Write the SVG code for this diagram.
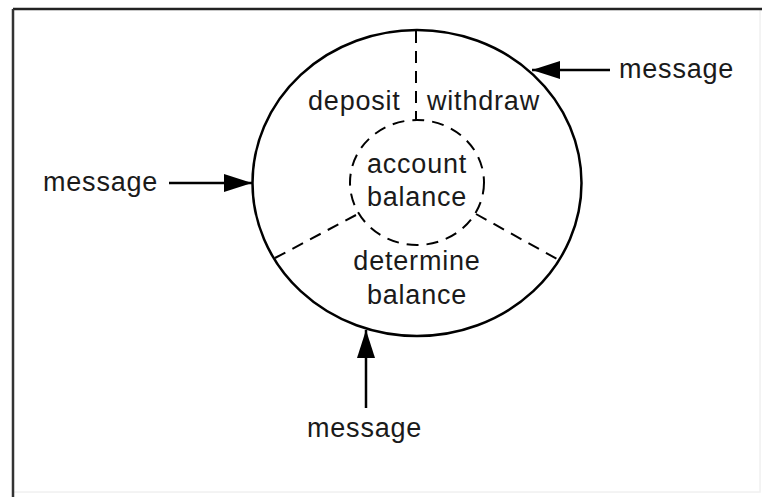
<svg xmlns="http://www.w3.org/2000/svg" width="762" height="497" viewBox="0 0 762 497">
<style>
.t{font-family:"Liberation Sans",Arial,Helvetica,sans-serif;font-size:27px;letter-spacing:0.8px;fill:#1a1a1a}
.c{text-anchor:middle}
.solid{fill:none;stroke:#000;stroke-width:2.5}
.dash{fill:none;stroke:#000;stroke-width:2;stroke-dasharray:12 8}
.arr{stroke:#000;stroke-width:2.5;fill:none;marker-end:url(#ah)}
</style>
<defs>
<marker id="ah" viewBox="0 0 28 18" refX="28" refY="9" markerWidth="28" markerHeight="18" markerUnits="userSpaceOnUse" orient="auto">
<path d="M0,0 L28,9 L0,18 Z" fill="#000"/>
</marker>
</defs>
<rect x="0" y="0" width="762" height="497" fill="#fff"/>
<g id="frame">
<rect x="13" y="9" width="747" height="483" fill="none" stroke="#f0f0f0" stroke-width="1.5"/>
<line x1="13" y1="9" x2="762" y2="9" stroke="#222" stroke-width="2.5"/>
<line x1="13" y1="9" x2="13" y2="497" stroke="#333" stroke-width="2.5"/>
</g>
<g id="object">
<ellipse cx="417" cy="183" rx="164.5" ry="153" class="solid"/>
<line x1="416" y1="31" x2="416" y2="120" class="dash"/>
<line x1="356" y1="215" x2="275" y2="258" class="dash"/>
<line x1="476" y1="214" x2="557" y2="259" class="dash"/>
</g>
<g id="account-balance">
<ellipse cx="417" cy="182.5" rx="67" ry="62.5" class="dash"/>
<text class="t c" x="417" y="173">account</text>
<text class="t c" x="417" y="206">balance</text>
</g>
<g id="deposit"><text class="t" x="308" y="110">deposit</text></g>
<g id="withdraw"><text class="t" x="427" y="110">withdraw</text></g>
<g id="determine-balance">
<text class="t c" x="417" y="270">determine</text>
<text class="t c" x="417" y="304">balance</text>
</g>
<g id="msg-left"><text class="t" x="43" y="191">message</text></g>
<g id="msg-right"><text class="t" x="619" y="78">message</text></g>
<g id="msg-bottom"><text class="t" x="307" y="437">message</text></g>
<g id="connectors">
<line x1="169" y1="183" x2="252" y2="183" class="arr"/>
<line x1="610" y1="70" x2="532" y2="70" class="arr"/>
<line x1="366" y1="408" x2="366" y2="330" class="arr"/>
</g>
</svg>
